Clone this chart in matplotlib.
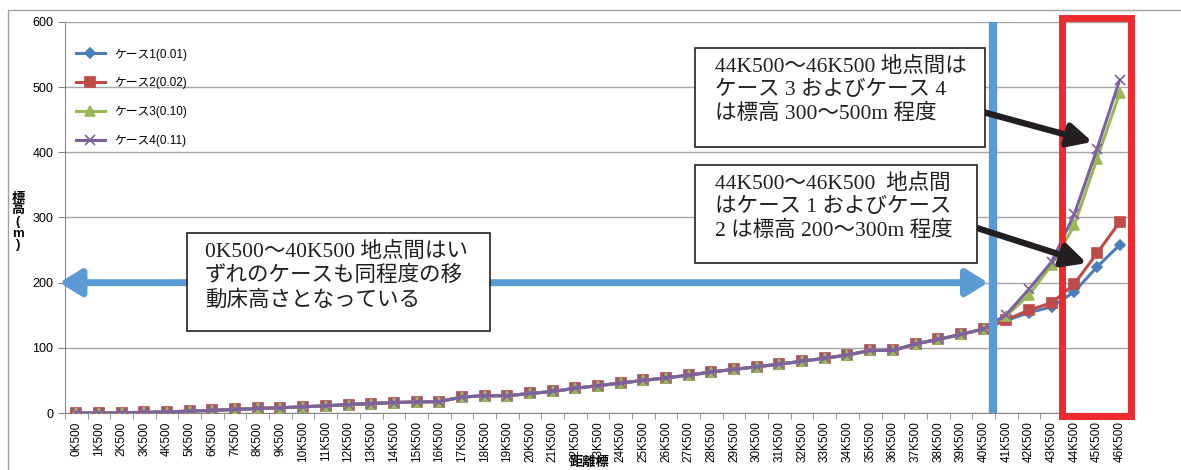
import matplotlib
matplotlib.use("Agg")
import matplotlib.pyplot as plt
from matplotlib.patches import Rectangle
import numpy as np

plt.rcParams['font.family'] = ['Liberation Sans', 'Noto Sans CJK JP', 'DejaVu Sans']

# data
labels = ['%dK500' % i for i in range(47)]
common = [0, 0, 0.5, 1, 1.5, 3, 4, 5.5, 7, 8, 9.5, 11, 13, 14.5, 16, 17, 17.5,
          24.5, 26.5, 26.5, 30, 33, 38, 42, 46, 50, 54, 58, 63, 67, 71, 75,
          79.5, 84, 89, 96, 96, 106, 113, 120.5, 129]
case1 = common + [142, 154, 163, 186, 224, 258]
case2 = common + [143, 158, 169, 198, 245, 293]
case3 = common + [149, 181, 227, 288, 390, 491]
case4 = common + [151, 190, 232, 305, 405, 511]
names = ['ケース1(0.01)', 'ケース2(0.02)', 'ケース3(0.10)', 'ケース4(0.11)']
colors = ['#4A7EBB', '#BE4B48', '#98B954', '#7D60A0']
markers = ['D', 's', '^', 'x']
msizes = [5, 7, 7, 7]

W, H = 1181, 470
fig = plt.figure(figsize=(W / 100, H / 100), dpi=100)
ax = fig.add_axes([65 / W, 1 - 413 / H, (1131 - 65) / W, (413 - 22) / H])

x = np.arange(len(labels))
for ys, n, c, m, s in zip([case1, case2, case3, case4], names, colors, markers, msizes):
    ax.plot(x, ys, color=c, lw=2.2, marker=m, ms=s, mew=1.2, label=n, zorder=3)

ax.set_xlim(-0.5, 46.5)
ax.set_ylim(0, 600)
ax.set_yticks(range(0, 601, 100))
ax.yaxis.grid(True, color='#A6A6A6', lw=1)
ax.set_axisbelow(True)
ax.set_xticks(x)
ax.set_xticklabels(labels, rotation=90, fontsize=8.5)
ax.set_xticks(np.arange(-0.5, 47, 1), minor=True)
ax.tick_params(axis='x', which='major', length=0, pad=6)
ax.tick_params(axis='x', which='minor', length=4, color='#888888')
ax.tick_params(axis='y', length=5, color='#888888', labelsize=9)
for sp in ['top', 'right']:
    ax.spines[sp].set_visible(False)
ax.spines['left'].set_color('#888888')
ax.spines['bottom'].set_color('#888888')

leg = ax.legend(loc='upper left', bbox_to_anchor=(0.0, 0.96), frameon=False,
                fontsize=8.5, labelspacing=1.4, handlelength=2.5)

fig.text(18 / W, 1 - 222 / H, '標\n高\n(\nm\n)', fontsize=9.5,
         fontweight='bold', ha='center', va='center', linespacing=0.95)
fig.text(590 / W, 1 - 463 / H, '距離標', fontsize=9.5,
         fontweight='bold', ha='center', va='center')

# blue markers of the range
ax.axvline(40.4, ymin=0.005, ymax=1, color='#5B9BD5', lw=6, zorder=4)
ax.annotate('', xy=(-0.75, 200), xytext=(40.2, 200), annotation_clip=False,
            arrowprops=dict(arrowstyle='<|-|>,head_length=1.3,head_width=0.8',
                            color='#5B9BD5', lw=5, shrinkA=0, shrinkB=0), zorder=4)

# red box
ax.add_patch(Rectangle((43.45, -5), 3.05, 611, fill=False, ec='#EE2A2F', lw=5,
                       clip_on=False, zorder=5))

# black arrows
for tail, tip in [((39.96, 462), (44.8, 416)), ((39.7, 284), (44.55, 230))]:
    ax.annotate('', xy=tip, xytext=tail, annotation_clip=False,
                arrowprops=dict(arrowstyle='-|>,head_length=1.4,head_width=0.7',
                                color='#231F20', lw=4.5, shrinkA=0, shrinkB=0), zorder=6)

# text boxes
serif = ['Liberation Serif', 'Noto Sans CJK JP']
boxes = [
    ((187, 233, 490, 331), (205, 242),
     '0K500～40K500 地点間はい\nずれのケースも同程度の移\n動床高さとなっている'),
    ((695, 48, 985, 147), (715, 57),
     '44K500～46K500 地点間は\nケース 3 およびケース 4\nは標高 300～500m 程度'),
    ((695, 165, 977, 263), (715, 174),
     '44K500～46K500  地点間\nはケース 1 およびケース\n2 は標高 200～300m 程度'),
]
for (x0, y0, x1, y1), (tx, ty), txt in boxes:
    fig.patches.append(Rectangle((x0 / W, 1 - y1 / H), (x1 - x0) / W, (y1 - y0) / H,
                                 transform=fig.transFigure, fc='white', ec='#231F20',
                                 lw=1.2, zorder=7))
    fig.text(tx / W, 1 - ty / H, txt, family=serif, fontsize=15.5, color='#231F20',
             ha='left', va='top', linespacing=1.25, zorder=8)

# outer chart border
fig.patches.append(Rectangle((8 / W, -0.1), 1.1, 1 - 10 / H + 0.1,
                             transform=fig.transFigure, fill=False,
                             ec='#A0A0A0', lw=1))

fig.savefig('out.png', dpi=100)
